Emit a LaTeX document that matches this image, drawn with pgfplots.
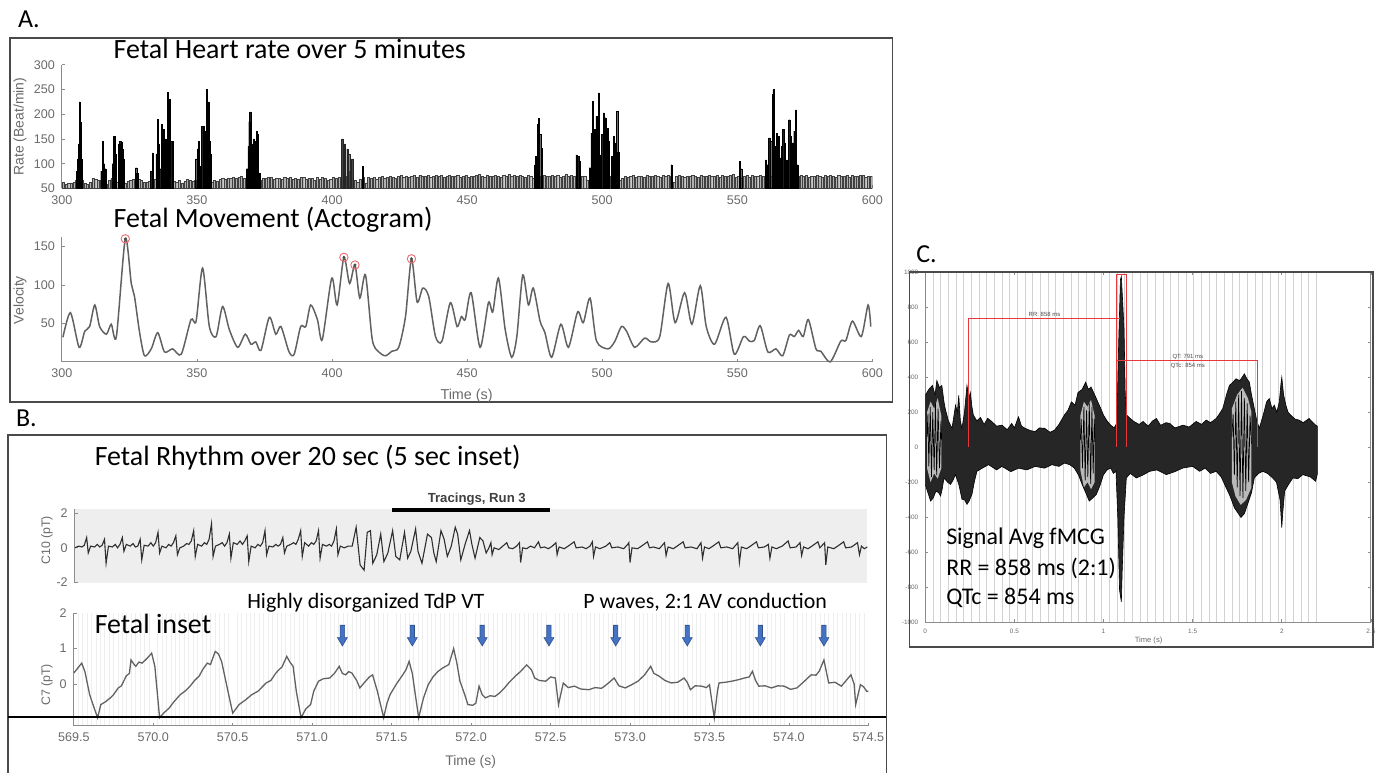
\documentclass[border=0pt]{standalone}
\usepackage{fontspec}
\setmainfont{Carlito}
\newfontfamily\hv{Liberation Sans}
\usepackage{pgfplots}
\pgfplotsset{compat=1.18}

\definecolor{axgray}{HTML}{8C8C8C}
\definecolor{tkgray}{HTML}{6A6A6A}
\definecolor{framegray}{HTML}{4A4A4A}
\definecolor{pblue}{HTML}{4472C4}
\definecolor{mred}{HTML}{E8383D}

\pgfplotsset{
  mlab/.style={
    scale only axis, anchor=south west,
    axis lines*=left, tick align=inside,
    axis line style={axgray, line width=0.5pt},
    major tick style={axgray, line width=0.4pt},
    major tick length=1.6pt, minor tick length=0pt,
    /pgf/number format/assume math mode=true,
    /pgf/number format/1000 sep={},
    tick label style={font=\hv\fontsize{6.3}{7}\selectfont, text=tkgray},
  },
}

\begin{document}
\begin{tikzpicture}
\begin{scope}[x=0.5pt,y=-0.5pt]
\path[use as bounding box] (0,0) rectangle (1382,771);
\end{scope}

% ---------- A: heart rate ----------
\begin{axis}[mlab, at={(31pt,-94.5pt)}, width=406.5pt, height=62pt,
  xmin=300, xmax=600, ymin=50, ymax=300,
  xtick={300,350,...,600}, ytick={50,100,...,300}]
\addplot[ybar, bar width=0.8, bar shift=0pt, fill=gray!62, draw=gray!50!black, line width=0.15pt]
  table[header=false, row sep=\\, x expr=\coordindex+300.5, y index=0] {
63\\58\\60\\61\\63\\66\\69\\66\\60\\58\\62\\71\\68\\67\\66\\64\\59\\66\\70\\64\\
63\\60\\58\\61\\64\\67\\69\\70\\68\\66\\63\\62\\65\\67\\69\\68\\64\\62\\61\\65\\
66\\64\\63\\66\\61\\64\\68\\66\\65\\67\\66\\64\\68\\70\\66\\63\\67\\65\\68\\70\\
69\\71\\70\\72\\71\\73\\75\\70\\69\\67\\71\\72\\69\\67\\71\\70\\72\\73\\69\\71\\
70\\68\\72\\71\\73\\69\\71\\68\\72\\73\\69\\71\\70\\67\\72\\69\\73\\71\\66\\69\\
73\\70\\72\\69\\71\\75\\73\\70\\67\\63\\69\\73\\61\\72\\71\\73\\69\\72\\74\\71\\
72\\75\\73\\71\\74\\76\\73\\75\\72\\74\\76\\73\\77\\75\\74\\76\\73\\75\\77\\74\\
76\\73\\75\\77\\74\\75\\76\\72\\75\\77\\73\\75\\74\\76\\78\\75\\73\\76\\75\\74\\
77\\75\\73\\76\\74\\78\\75\\77\\74\\76\\75\\73\\77\\75\\71\\69\\73\\75\\76\\74\\
75\\77\\74\\76\\73\\75\\78\\74\\76\\75\\73\\72\\75\\74\\67\\65\\69\\73\\71\\75\\
73\\75\\71\\74\\70\\73\\67\\71\\75\\73\\74\\76\\72\\75\\74\\73\\76\\74\\75\\77\\
75\\73\\76\\74\\77\\75\\63\\74\\76\\75\\73\\75\\74\\77\\75\\73\\76\\74\\75\\77\\
74\\75\\76\\73\\77\\75\\74\\76\\78\\73\\75\\71\\74\\76\\73\\77\\75\\74\\76\\75\\
73\\71\\75\\74\\72\\76\\73\\77\\74\\75\\73\\71\\75\\76\\74\\77\\73\\75\\74\\76\\
75\\73\\76\\74\\77\\75\\73\\76\\74\\75\\77\\73\\76\\74\\75\\77\\76\\73\\75\\74\\
};
\addplot[ybar, bar width=0.5, bar shift=0pt, fill=gray!55!black, draw=gray!30!black, line width=0.15pt]
  coordinates {(403.8,150)(404.7,140)(405.7,130)(406.3,120)(406.9,85)(407.5,110)};
\addplot[ybar, bar width=0.45, bar shift=0pt, fill=black!88, draw=black, line width=0.15pt]
  coordinates {
  (305.6,85)(306.0,110)(306.3,140)(306.6,225)(306.9,185)(307.2,110)
  (314.6,85)(315.1,145)(315.6,100)(316.1,90)
  (318.8,100)(319.2,155)(319.6,155)(320.0,120)(321.2,140)(321.6,145)(322.0,143)(322.4,130)(322.8,110)
  (327.5,92)(327.9,80)
  (333.1,85)(333.7,122)(335.0,120)(335.6,190)(335.9,140)(336.4,90)(337.0,180)(337.6,170)(338.3,150)(339.3,245)(339.9,230)(340.5,145)(341.1,145)
  (349.7,110)(350.3,130)(350.7,145)(351.3,95)(351.9,175)(352.4,175)(353.0,165)(353.6,250)(354.2,225)(354.6,145)(355.0,120)
  (368.5,90)(369.1,135)(369.4,185)(369.7,205)(370.3,140)(370.7,120)(371.1,150)(371.6,145)(372.2,165)(372.6,160)(373.1,80)
  (411.4,95)
  (475.2,98)(475.5,115)(476.1,179)(476.6,192)(477.0,159)(477.6,132)
  (490.5,118)(491.1,115)(491.7,105)
  (495.4,92)(496.0,162)(496.6,226)(497.3,169)(497.9,196)(498.7,243)(499.4,118)(500.0,159)(500.6,203)(501.2,193)(501.9,172)(502.5,145)(503.5,115)(504.3,155)(504.9,142)(505.5,206)(505.9,123)
  (525.6,98)
  (551.0,105)(551.4,90)
  (560.6,108)(561.2,98)(561.8,152)(562.5,145)(563.1,240)(563.4,250)(563.9,135)(564.7,162)(565.2,155)(565.9,112)(566.5,135)(567.0,169)(567.6,142)(568.4,108)(569.2,189)(569.8,155)(570.5,142)(571.1,166)(571.7,209)(572.3,98)
  };
\end{axis}

% ---------- A: actogram ----------
\begin{axis}[mlab, at={(31pt,-181.5pt)}, width=406.5pt, height=62.5pt,
  xmin=300, xmax=600, ymin=0, ymax=162, clip=false,
  xtick={300,350,...,600}, ytick={50,100,150}]
\addplot[smooth, tension=0.45, color=black!62, line width=0.75pt] coordinates {
(300.4,32)(303.2,64)(306.4,19)(308.5,40)(310.3,46)(312.2,74)(314,46)(316.5,36)(318.3,49)(320.2,33)
(323.5,160)(325.7,102)(326.9,85)(328.8,38)(330.6,8)(333.1,17)(335.5,38)(338,13)(341,17)(344.2,10)
(347.8,55)(349.7,53)(352.1,122)(354.6,46)(357.1,33)(359.5,72)(362,42)(365.1,19)(367.9,36)(370,23)
(371.8,26)(373.7,15)(376.8,58)(379.2,36)(381.1,46)(384.1,13)(386,10)(388.4,46)(390.3,46)(392.1,74)
(394.6,55)(396.4,29)(399.9,109)(401.9,74)(404.4,136)(406.5,102)(408.5,126)(410.3,83)(412.4,113)(414.9,29)
(417.3,13)(419.8,8)(422.2,14)(424.7,19)(427.2,59)(429.4,134)(431.5,78)(433.6,96)(435.8,85)(438.3,33)
(440.7,27)(443.8,77)(446.3,46)(447.9,59)(449.3,55)(451.5,90)(454.8,19)(457.9,77)(459.5,65)(461.6,109)
(464.1,42)(466.5,6)(468.4,33)(470.6,113)(472.7,74)(474.5,96)(477,53)(478.8,38)(481.3,6)(484.7,49)
(487.5,19)(490.9,65)(493,51)(495.5,83)(497.9,27)(502.2,17)(504.7,27)(507.1,46)(509,40)(512,19)
(515.7,31)(518.2,26)(521.3,33)(524.4,102)(527,51)(530.5,90)(533.2,49)(536.3,99)(538.5,46)(541.6,23)
(545.8,58)(548.9,10)(552.3,33)(554.5,27)(556.3,28)(558.5,47)(561.3,13)(564.3,17)(566.8,8)(569.3,35)
(571.1,33)(572.7,41)(574.4,33)(576.3,55)(579.1,17)(580.9,14)(584.4,0)(588.3,27)(590.2,28)(592.6,53)
(595.9,33)(598.4,74)(599.4,46)};
\addplot[only marks, mark=*, mark size=0.5pt, color=black!70] coordinates {(323.5,160)(404.4,136)(408.5,126)(429.4,134)};
\addplot[only marks, mark=o, mark size=2.1pt, color=mred!75, line width=0.45pt] coordinates {(323.5,160)(404.4,136)(408.5,126)(429.4,134)};
\end{axis}

% ---------- B: C10 ----------
\begin{axis}[mlab, at={(37.5pt,-292.5pt)}, width=397.5pt, height=37pt,
  xmin=0, xmax=20, ymin=-2.06, ymax=2.23, ytick={-2,0,2}, xtick=\empty,
  axis x line=none, axis background/.style={fill=gray!13},
  minor xtick={0,0.1,...,20}, xminorgrids, minor grid style={gray!24, line width=0.3pt}]
\addplot[black!82, line width=0.55pt] coordinates {
(0.0,0.0)(0.1,0.1)(0.18,0.05)(0.24,0.15)(0.3,0.6)(0.34,-0.3)(0.4,0.1)(0.5,0.05)(0.57,0.2)
(0.63,0.05)(0.69,0.15)(0.75,0.5)(0.79,-0.9)(0.85,0.1)(0.95,0.05)(1.02,0.2)
(1.08,0.0)(1.14,0.2)(1.2,0.6)(1.24,-0.2)(1.3,0.2)(1.4,0.1)(1.47,0.25)
(1.53,0.05)(1.59,0.1)(1.65,0.5)(1.69,-0.7)(1.75,0.15)(1.85,0.1)(1.92,0.3)
(1.98,0.1)(2.04,0.3)(2.1,0.9)(2.14,-0.3)(2.2,0.1)(2.3,0.0)(2.37,0.2)
(2.43,0.1)(2.49,0.3)(2.55,0.7)(2.59,-0.4)(2.65,0.0)(2.75,0.1)(2.82,0.25)
(2.88,0.2)(2.94,0.4)(3.0,1.0)(3.04,-0.5)(3.1,0.2)(3.2,0.1)(3.27,0.3)
(3.33,0.2)(3.39,0.5)(3.45,1.4)(3.49,-0.5)(3.55,0.1)(3.65,0.2)(3.72,0.3)
(3.78,0.1)(3.84,0.3)(3.9,0.8)(3.94,-0.6)(4.0,0.3)(4.1,0.2)(4.17,0.4)
(4.23,0.2)(4.29,0.4)(4.35,0.7)(4.39,-0.8)(4.45,0.1)(4.55,0.0)(4.62,0.2)
(4.68,0.1)(4.74,0.3)(4.8,1.0)(4.84,-0.4)(4.9,0.1)(5.0,0.05)(5.07,0.2)
(5.13,0.1)(5.19,0.2)(5.25,0.6)(5.29,-0.3)(5.35,0.1)(5.45,0.2)(5.52,0.3)
(5.58,0.2)(5.64,0.5)(5.7,1.0)(5.74,-0.5)(5.8,0.3)(5.9,0.1)(5.97,0.3)
(6.03,0.2)(6.09,0.4)(6.15,1.0)(6.19,-0.6)(6.25,0.2)(6.35,0.1)(6.42,0.2)
(6.48,0.1)(6.54,0.4)(6.6,1.1)(6.64,-0.4)(6.7,0.1)(6.8,0.0)(6.9,0.1)
(7.0,0.1)(7.1,1.2)(7.2,-1.0)(7.3,-1.3)(7.38,0.9)(7.46,1.0)(7.52,-0.9)(7.62,-0.4)(7.72,0.8)(7.8,-0.8)
(7.9,-0.3)(8.02,1.0)(8.1,-0.5)(8.2,-0.7)(8.32,0.9)(8.4,-0.6)(8.48,-0.2)(8.6,1.1)(8.66,-0.2)(8.76,-0.9)
(8.9,0.8)(9.0,0.6)(9.06,-0.3)(9.12,-0.8)(9.24,1.0)(9.32,0.5)(9.4,-0.5)(9.5,0.1)(9.6,1.2)(9.66,0.8)
(9.74,-0.7)(9.86,0.3)(9.96,1.0)(10.02,0.2)(10.1,-0.6)(10.22,0.6)(10.3,0.4)(10.38,-0.3)
(10.45,0.0)(10.5,0.3)(10.53,-0.4)(10.58,0.0)(10.7,-0.1)(10.8,0.1)(10.9,0.3)(10.95,0.0)(11.05,-0.05)(11.15,0.1)
(11.22,0.3)(11.25,-0.85)(11.3,0.0)(11.4,-0.05)(11.5,0.1)(11.6,0.0)(11.7,0.35)(11.75,0.0)(11.85,0.05)(11.95,-0.05)
(12.05,0.1)(12.14,0.3)(12.17,-0.4)(12.22,0.05)(12.35,-0.05)(12.45,0.1)(12.6,0.35)(12.65,0.0)(12.8,0.05)(12.9,-0.05)
(13.0,0.1)(13.06,0.35)(13.09,-0.5)(13.14,0.05)(13.25,-0.05)(13.4,0.1)(13.5,0.3)(13.55,0.0)(13.7,0.05)(13.85,-0.05)
(13.95,0.2)(13.98,0.3)(14.01,-0.85)(14.06,0.0)(14.2,-0.05)(14.3,0.1)(14.45,0.35)(14.5,0.0)(14.6,0.05)(14.75,-0.05)
(14.88,0.3)(14.92,-0.45)(14.97,0.05)(15.1,-0.05)(15.2,0.1)(15.35,0.35)(15.4,0.0)(15.55,0.05)(15.7,-0.05)(15.8,0.3)
(15.84,-0.6)(15.89,0.05)(16.0,-0.05)(16.1,0.1)(16.25,0.35)(16.3,0.0)(16.45,0.05)(16.6,-0.05)(16.73,0.3)(16.77,-0.85)
(16.82,0.05)(16.95,-0.05)(17.05,0.1)(17.2,0.35)(17.25,0.0)(17.4,0.05)(17.5,0.2)(17.54,-0.6)(17.59,0.05)(17.7,-0.05)
(17.85,0.1)(18.0,0.4)(18.05,0.0)(18.2,0.05)(18.3,0.3)(18.34,-0.45)(18.39,0.05)(18.5,-0.05)(18.6,0.1)(18.75,0.35)
(18.8,0.0)(18.92,0.3)(18.95,-1.0)(19.0,0.05)(19.15,-0.05)(19.25,0.1)(19.4,0.35)(19.45,0.0)(19.6,0.05)(19.75,0.3)
(19.8,-0.4)(19.85,0.1)(19.92,-0.05)(20.0,0.05)};
\end{axis}

% ---------- B: C7 inset ----------
\begin{axis}[mlab, at={(37pt,-364pt)}, width=398.5pt, height=56.5pt,
  xmin=569.5, xmax=574.5, ymin=-1.18, ymax=2,
  xtick={569.5,570,...,574.5},
  xticklabels={569.5,570.0,570.5,571.0,571.5,572.0,572.5,573.0,573.5,574.0,574.5},
  ytick={0,1,2}, minor x tick num=17, xminorgrids,
  minor grid style={gray!13, line width=0.3pt}]
\addplot[black!62, line width=0.65pt] coordinates {
(569.5,0.31)(569.52,0.42)(569.55,0.59)(569.57,0.35)(569.6,-0.3)(569.63,-0.7)(569.65,-0.95)(569.67,-0.58)(569.7,-0.5)(569.73,-0.39)
(569.75,-0.3)(569.78,-0.11)(569.8,-0.05)(569.83,0.23)(569.85,0.3)(569.86,0.68)(569.88,0.55)(569.89,0.5)(569.91,0.62)(569.93,0.59)
(569.96,0.72)(569.99,0.87)(570.01,0.5)(570.04,-0.95)(570.07,-0.8)(570.1,-0.68)(570.13,-0.5)(570.17,-0.3)(570.2,-0.2)(570.23,-0.07)
(570.26,0.1)(570.29,0.23)(570.31,0.4)(570.34,0.59)(570.36,0.55)(570.39,0.92)(570.41,0.85)(570.43,0.64)(570.47,-0.2)(570.5,-0.82)
(570.52,-0.7)(570.54,-0.58)(570.58,-0.45)(570.62,-0.3)(570.66,-0.2)(570.71,0.03)(570.74,0.1)(570.77,0.3)(570.79,0.4)(570.81,0.48)
(570.84,0.78)(570.86,0.62)(570.88,0.5)(570.9,-0.2)(570.93,-0.95)(570.96,-0.7)(570.99,-0.58)(571.01,-0.2)(571.04,0.08)(571.07,0.15)
(571.11,0.17)(571.14,0.3)(571.17,0.5)(571.19,0.3)(571.21,0.26)(571.23,0.35)(571.25,0.31)(571.28,0.1)(571.3,-0.11)(571.33,0.05)
(571.36,0.2)(571.38,0.26)(571.41,-0.2)(571.45,-0.95)(571.47,-0.55)(571.49,-0.3)(571.53,0.0)(571.57,0.26)(571.59,0.4)(571.61,0.64)
(571.63,0.3)(571.67,-0.95)(571.7,-0.4)(571.73,-0.02)(571.76,0.2)(571.79,0.35)(571.82,0.45)(571.84,0.5)(571.86,0.55)(571.89,1.0)
(571.91,0.6)(571.93,0.08)(571.96,-0.3)(571.98,-0.58)(572.01,-0.6)(572.03,-0.54)(572.05,-0.06)(572.07,-0.3)(572.09,-0.39)(572.12,-0.33)
(572.15,-0.35)(572.18,-0.25)(572.21,-0.11)(572.24,0.05)(572.28,0.23)(572.31,0.35)(572.35,0.54)(572.38,0.4)(572.4,0.17)(572.43,0.1)
(572.47,0.08)(572.5,0.2)(572.53,0.17)(572.55,-0.58)(572.58,0.03)(572.61,-0.1)(572.65,-0.06)(572.69,-0.14)(572.74,-0.16)(572.78,-0.1)
(572.82,-0.12)(572.84,-0.06)(572.87,0.05)(572.9,0.17)(572.93,-0.05)(572.97,-0.11)(573.01,-0.02)(573.05,0.08)(573.09,0.25)(573.13,0.5)
(573.15,0.3)(573.18,0.23)(573.22,0.1)(573.26,0.03)(573.3,0.05)(573.34,0.17)(573.36,0.05)(573.38,-0.16)(573.41,-0.05)(573.45,-0.06)
(573.48,-0.1)(573.5,-0.02)(573.53,-0.95)(573.55,-0.2)(573.56,0.03)(573.6,0.05)(573.64,0.08)(573.68,0.12)(573.72,0.17)(573.75,0.2)
(573.77,0.36)(573.79,0.1)(573.81,-0.06)(573.85,-0.05)(573.89,-0.11)(573.93,-0.05)(573.97,-0.06)(574.01,-0.15)(574.05,-0.11)(574.09,0.05)
(574.14,0.26)(574.17,0.25)(574.19,0.36)(574.22,0.68)(574.25,0.03)(574.29,0.05)(574.33,-0.06)(574.36,0.1)(574.39,0.26)(574.41,0.0)
(574.42,-0.58)(574.44,-0.2)(574.45,-0.02)(574.47,-0.08)(574.49,-0.21)(574.5,-0.2)};
\pgfplotsinvokeforeach{571.19,571.63,572.07,572.49,572.91,573.36,573.82,574.22}{
  \draw[fill=pblue, draw=pblue!70!black, line width=0.3pt]
    (axis cs:#1,1.66) ++(-1.1pt,0pt) -- ++(2.2pt,0pt) -- ++(0pt,-6.2pt) -- ++(1.4pt,0pt)
    -- ++(-2.5pt,-4.2pt) -- ++(-2.5pt,4.2pt) -- ++(1.4pt,0pt) -- cycle;
}
\end{axis}

% ---------- C: signal average ----------
\begin{axis}[scale only axis, anchor=south west, at={(464pt,-312pt)}, width=223.5pt, height=175.5pt,
  xmin=0, xmax=2.5, ymin=-1000, ymax=1000, tick align=inside,
  axis line style={axgray, line width=0.5pt},
  major tick style={axgray, line width=0.3pt}, major tick length=1.4pt, minor tick length=0pt,
  /pgf/number format/assume math mode=true, /pgf/number format/1000 sep={},
  tick label style={font=\hv\fontsize{3.2}{4}\selectfont, text=tkgray},
  xtick={0,0.5,...,2.5}, xticklabels={0,0.5,1,1.5,2,2.5},
  ytick={-1000,-800,...,1000},
  minor xtick={0,0.043,...,2.2}, xminorgrids, minor grid style={gray!35, line width=0.3pt}]
\addplot[fill=black!85, draw=black, line width=0.3pt] coordinates {
(0,296)(0.02,330)(0.04,353)(0.055,300)(0.065,381)(0.08,340)(0.093,353)(0.105,260)(0.112,221)(0.13,150)
(0.15,108)(0.17,240)(0.18,200)(0.188,296)(0.197,150)(0.206,108)(0.22,200)(0.234,353)(0.245,280)(0.253,313)
(0.262,230)(0.27,183)(0.29,150)(0.31,170)(0.33,130)(0.35,165)(0.373,147)(0.4,120)(0.43,126)(0.46,100)
(0.485,136)(0.5,110)(0.523,174)(0.54,120)(0.56,108)(0.59,95)(0.616,89)(0.64,110)(0.67,108)(0.7,85)
(0.726,98)(0.75,130)(0.78,183)(0.8,210)(0.82,259)(0.84,240)(0.857,313)(0.88,330)(0.9,372)(0.915,330)
(0.93,344)(0.95,300)(0.968,259)(0.985,220)(1.0,183)(1.02,150)(1.04,126)(1.06,110)(1.075,140)(1.085,600)
(1.095,958)(1.1,976)(1.108,820)(1.115,674)(1.122,300)(1.13,183)(1.15,164)(1.17,147)(1.2,130)(1.222,147)
(1.25,120)(1.275,150)(1.297,164)(1.32,125)(1.35,140)(1.371,136)(1.4,110)(1.446,126)(1.48,115)(1.52,147)
(1.55,130)(1.576,155)(1.6,140)(1.632,164)(1.65,190)(1.669,221)(1.69,300)(1.706,353)(1.725,370)(1.743,391)
(1.765,380)(1.79,419)(1.805,390)(1.818,372)(1.83,300)(1.846,221)(1.86,150)(1.874,108)(1.9,200)(1.915,260)
(1.93,278)(1.945,220)(1.958,240)(1.972,200)(1.986,259)(1.995,360)(2.0,400)(2.01,300)(2.023,240)(2.035,200)
(2.05,183)(2.075,160)(2.097,155)(2.12,140)(2.153,164)(2.175,140)(2.19,126)(2.2,120)
(2.2,-150)(2.19,-195)(2.16,-170)(2.118,-157)(2.09,-180)(2.062,-176)(2.04,-210)(2.016,-251)(2.005,-380)(2.0,-459)
(1.99,-300)(1.97,-200)(1.949,-176)(1.92,-150)(1.893,-138)(1.87,-150)(1.846,-176)(1.83,-260)(1.808,-327)(1.79,-380)
(1.771,-402)(1.75,-370)(1.734,-346)(1.71,-280)(1.688,-232)(1.66,-170)(1.632,-138)(1.6,-150)(1.57,-120)(1.539,-138)
(1.5,-110)(1.446,-119)(1.4,-140)(1.352,-157)(1.3,-130)(1.259,-138)(1.22,-160)(1.184,-176)(1.15,-150)(1.128,-176)
(1.115,-400)(1.105,-700)(1.1,-884)(1.095,-850)(1.09,-818)(1.08,-400)(1.07,-138)(1.055,-150)(1.04,-119)(1.02,-130)
(1.0,-157)(0.98,-220)(0.96,-270)(0.94,-290)(0.92,-308)(0.9,-260)(0.88,-213)(0.86,-160)(0.836,-119)(0.81,-100)
(0.78,-91)(0.75,-110)(0.71,-100)(0.67,-120)(0.616,-110)(0.57,-130)(0.523,-120)(0.48,-140)(0.43,-110)(0.4,-130)
(0.355,-100)(0.32,-120)(0.29,-138)(0.275,-200)(0.262,-270)(0.245,-310)(0.234,-327)(0.22,-300)(0.206,-298)(0.19,-220)
(0.17,-157)(0.155,-190)(0.142,-213)(0.125,-200)(0.105,-176)(0.095,-240)(0.086,-279)(0.075,-260)(0.06,-251)(0.045,-290)
(0.03,-308)(0.015,-260)(0,-213)} -- cycle;
% lighter cores of the P and T wave blobs
\addplot[fill=gray!55, draw=none] coordinates {
(0.01,200)(0.03,260)(0.05,220)(0.07,280)(0.09,180)(0.09,-120)(0.07,-180)(0.05,-150)(0.03,-200)(0.01,-120)} -- cycle;
\addplot[fill=gray!55, draw=none] coordinates {
(0.87,180)(0.89,260)(0.91,230)(0.93,270)(0.95,180)(0.95,-200)(0.93,-240)(0.91,-200)(0.89,-230)(0.87,-130)} -- cycle;
\addplot[fill=gray!55, draw=none] coordinates {
(1.72,220)(1.75,300)(1.78,340)(1.81,280)(1.83,200)(1.83,-230)(1.8,-300)(1.77,-330)(1.74,-280)(1.72,-200)} -- cycle;
\addplot[black, line width=0.35pt] coordinates {
(0.01,60)(0.015,190)(0.02,-110)(0.028,230)(0.035,-170)(0.042,200)(0.05,-130)(0.057,250)(0.064,-160)(0.072,220)(0.08,-120)(0.088,150)(0.092,40)};
\addplot[black, line width=0.35pt] coordinates {
(0.87,40)(0.875,160)(0.882,-120)(0.89,230)(0.897,-190)(0.905,210)(0.912,-170)(0.92,250)(0.928,-210)(0.935,230)(0.942,-150)(0.948,160)(0.952,30)};
\addplot[black, line width=0.35pt] coordinates {
(1.72,60)(1.727,190)(1.734,-160)(1.742,260)(1.75,-230)(1.758,300)(1.766,-280)(1.774,320)(1.782,-290)(1.79,280)(1.798,-250)(1.806,250)(1.814,-200)(1.822,180)(1.83,20)};
\addplot[mred, line width=0.5pt] coordinates {(0.243,0)(0.243,735)(1.095,735)};
\addplot[mred, line width=0.4pt] coordinates {(1.073,0)(1.073,985)(1.128,985)(1.128,0)};
\addplot[mred, line width=0.5pt] coordinates {(1.073,493)(1.864,493)(1.864,0)};
\node[font=\hv\fontsize{3}{3.5}\selectfont, text=black!70] at (axis cs:0.669,756) {RR: 858 ms};
\node[font=\hv\fontsize{3}{3.5}\selectfont, text=black!70] at (axis cs:1.473,516) {QT: 791 ms};
\node[font=\hv\fontsize{3}{3.5}\selectfont, text=black!70] at (axis cs:1.473,466) {QTc: 854 ms};
\end{axis}

% ---------- frames and text ----------
\begin{scope}[x=0.5pt,y=-0.5pt]
\draw[framegray, line width=0.8pt] (10,38) rectangle (895,403);
\draw[framegray, line width=0.8pt] (8,775) -- (8,436) -- (889,436) -- (889,775);
\draw[black, line width=1.1pt] (8,719) -- (889,719);
\draw[framegray, line width=0.8pt] (912,273) rectangle (1377,649);
\draw[black, line width=2pt] (393,512) -- (552,512);

\node[anchor=base west, font=\fontsize{13}{15}\selectfont] at (11,28) {A.};
\node[anchor=base west, font=\fontsize{13}{15}\selectfont] at (9,428) {B.};
\node[anchor=base west, font=\fontsize{13}{15}\selectfont] at (912,263) {C.};

\node[anchor=base west, font=\fontsize{14}{16}\selectfont] at (107,59) {Fetal Heart rate over 5 minutes};
\node[anchor=base west, font=\fontsize{14}{16}\selectfont] at (107,228) {Fetal Movement (Actogram)};
\node[anchor=base west, font=\fontsize{14}{16}\selectfont] at (88,467) {Fetal Rhythm over 20 sec (5 sec inset)};
\node[anchor=base west, font=\hv\bfseries\fontsize{6.6}{8}\selectfont, text=black!75] at (422,504) {Tracings, Run 3};
\node[anchor=base west, font=\fontsize{11}{13}\selectfont] at (241,610) {Highly disorganized TdP VT};
\node[anchor=base west, font=\fontsize{11}{13}\selectfont] at (578,610) {P waves, 2:1 AV conduction};
\node[anchor=base west, font=\fontsize{14}{16}\selectfont] at (88,635) {Fetal inset};
\node[anchor=base west, font=\fontsize{12}{14}\selectfont] at (942,546) {Signal Avg fMCG};
\node[anchor=base west, font=\fontsize{12}{14}\selectfont] at (942,577) {RR = 858 ms (2:1)};
\node[anchor=base west, font=\fontsize{12}{14}\selectfont] at (942,606) {QTc = 854 ms};

\node[rotate=90, font=\hv\fontsize{7}{8}\selectfont, text=tkgray] at (20,127) {Rate (Beat/min)};
\node[rotate=90, font=\hv\fontsize{7}{8}\selectfont, text=tkgray] at (20,301) {Velocity};
\node[font=\hv\fontsize{7.2}{8}\selectfont, text=tkgray] at (468,397) {Time (s)};
\node[rotate=90, font=\hv\fontsize{6.2}{7}\selectfont, text=tkgray] at (47,542) {C10 (pT)};
\node[rotate=90, font=\hv\fontsize{6.2}{7}\selectfont, text=tkgray] at (47,687) {C7 (pT)};
\node[font=\hv\fontsize{7}{8}\selectfont, text=tkgray] at (472,764) {Time (s)};
\node[font=\hv\fontsize{3.8}{4.5}\selectfont, text=tkgray] at (1152,642) {Time (s)};
\end{scope}
\end{tikzpicture}
\end{document}
